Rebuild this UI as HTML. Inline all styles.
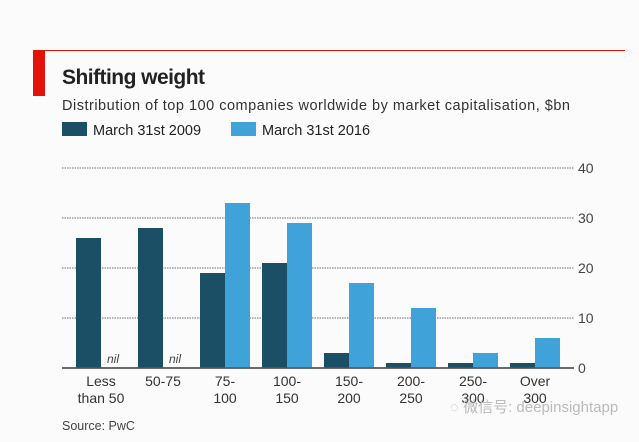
<!DOCTYPE html>
<html><head><meta charset="utf-8"><style>
body{margin:0;width:639px;height:442px;background:#fff;overflow:hidden;font-family:"Liberation Sans","Noto Sans CJK SC",sans-serif;}
</style></head><body>
<svg width="639" height="442" style="position:absolute;left:0;top:0">
<rect x="0" y="0" width="639" height="442" fill="#fbfbfb"/>
<line x1="33" y1="50.5" x2="625" y2="50.5" stroke="#e3120b" stroke-width="1"/>
<rect x="33" y="50" width="12" height="46" fill="#e3120b"/>
<text x="62" y="84" font-size="21" font-weight="bold" fill="#222" textLength="143">Shifting weight</text>
<text x="62" y="110" font-size="14.5" fill="#333" textLength="508">Distribution of top 100 companies worldwide by market capitalisation, $bn</text>
<rect x="62" y="122" width="25" height="14" fill="#1b4f66"/>
<text x="93" y="135" font-size="14.5" fill="#222">March 31st 2009</text>
<rect x="231" y="122" width="25" height="14" fill="#3fa3d9"/>
<text x="262" y="135" font-size="14.5" fill="#222">March 31st 2016</text>
<g id="plot"></g>
<text x="62" y="430" font-size="12.5" fill="#444">Source: PwC</text>
<text x="450" y="412" font-size="15" fill="#bbb">◌ 微信号: deepinsightapp</text>
</svg>
<script>
const categories=[["Less","than 50"],["50-75"],["75-","100"],["100-","150"],["150-","200"],["200-","250"],["250-","300"],["Over","300"]];
const values2009=[26,28,19,21,3,1,1,1];
const values2016=[0,0,33,29,17,12,3,6];
const ticks=[0,10,20,30,40];
const ns="http://www.w3.org/2000/svg";
const g=document.getElementById('plot');
const y=v=>368-v*5;
const x=i=>76+i*62;
function mk(t,a){const e=document.createElementNS(ns,t);for(const k in a)e.setAttribute(k,a[k]);g.appendChild(e);return e;}
ticks.forEach(t=>{
 const l=mk('line',{x1:62,x2:574,y1:y(t),y2:y(t),stroke:t?'#888':'#555','stroke-width':t?1.2:1.5,'stroke-dasharray':t?'1.5 1':''});
 
 
 const tx=mk('text',{x:578,y:y(t)+5,'font-size':14,fill:'#444'});tx.textContent=t;
 
 
});
categories.forEach((c,i)=>{
 const b1=mk('rect',{x:x(i),y:y(values2009[i]),width:25,height:values2009[i]*5,fill:'#1b4f66'});
 
 
 if(values2016[i]>0){
  const b2=mk('rect',{x:x(i)+25,y:y(values2016[i]),width:25,height:values2016[i]*5,fill:'#3fa3d9'});
  
  
 } else {
  const n=mk('text',{x:x(i)+37,y:363,'font-size':12,'font-style':'italic',fill:'#444','text-anchor':'middle'});n.textContent='nil';
  
  
 }
 c.forEach((s,k)=>{
  const t=mk('text',{x:x(i)+25,y:386+k*17,'font-size':14,fill:'#333','text-anchor':'middle'});t.textContent=s;
  
  
 });
});
// redraw baseline over bars
const bl=mk('line',{x1:62,x2:574,y1:y(0),y2:y(0),stroke:'#555','stroke-width':1.5});


</script>
</body></html>
